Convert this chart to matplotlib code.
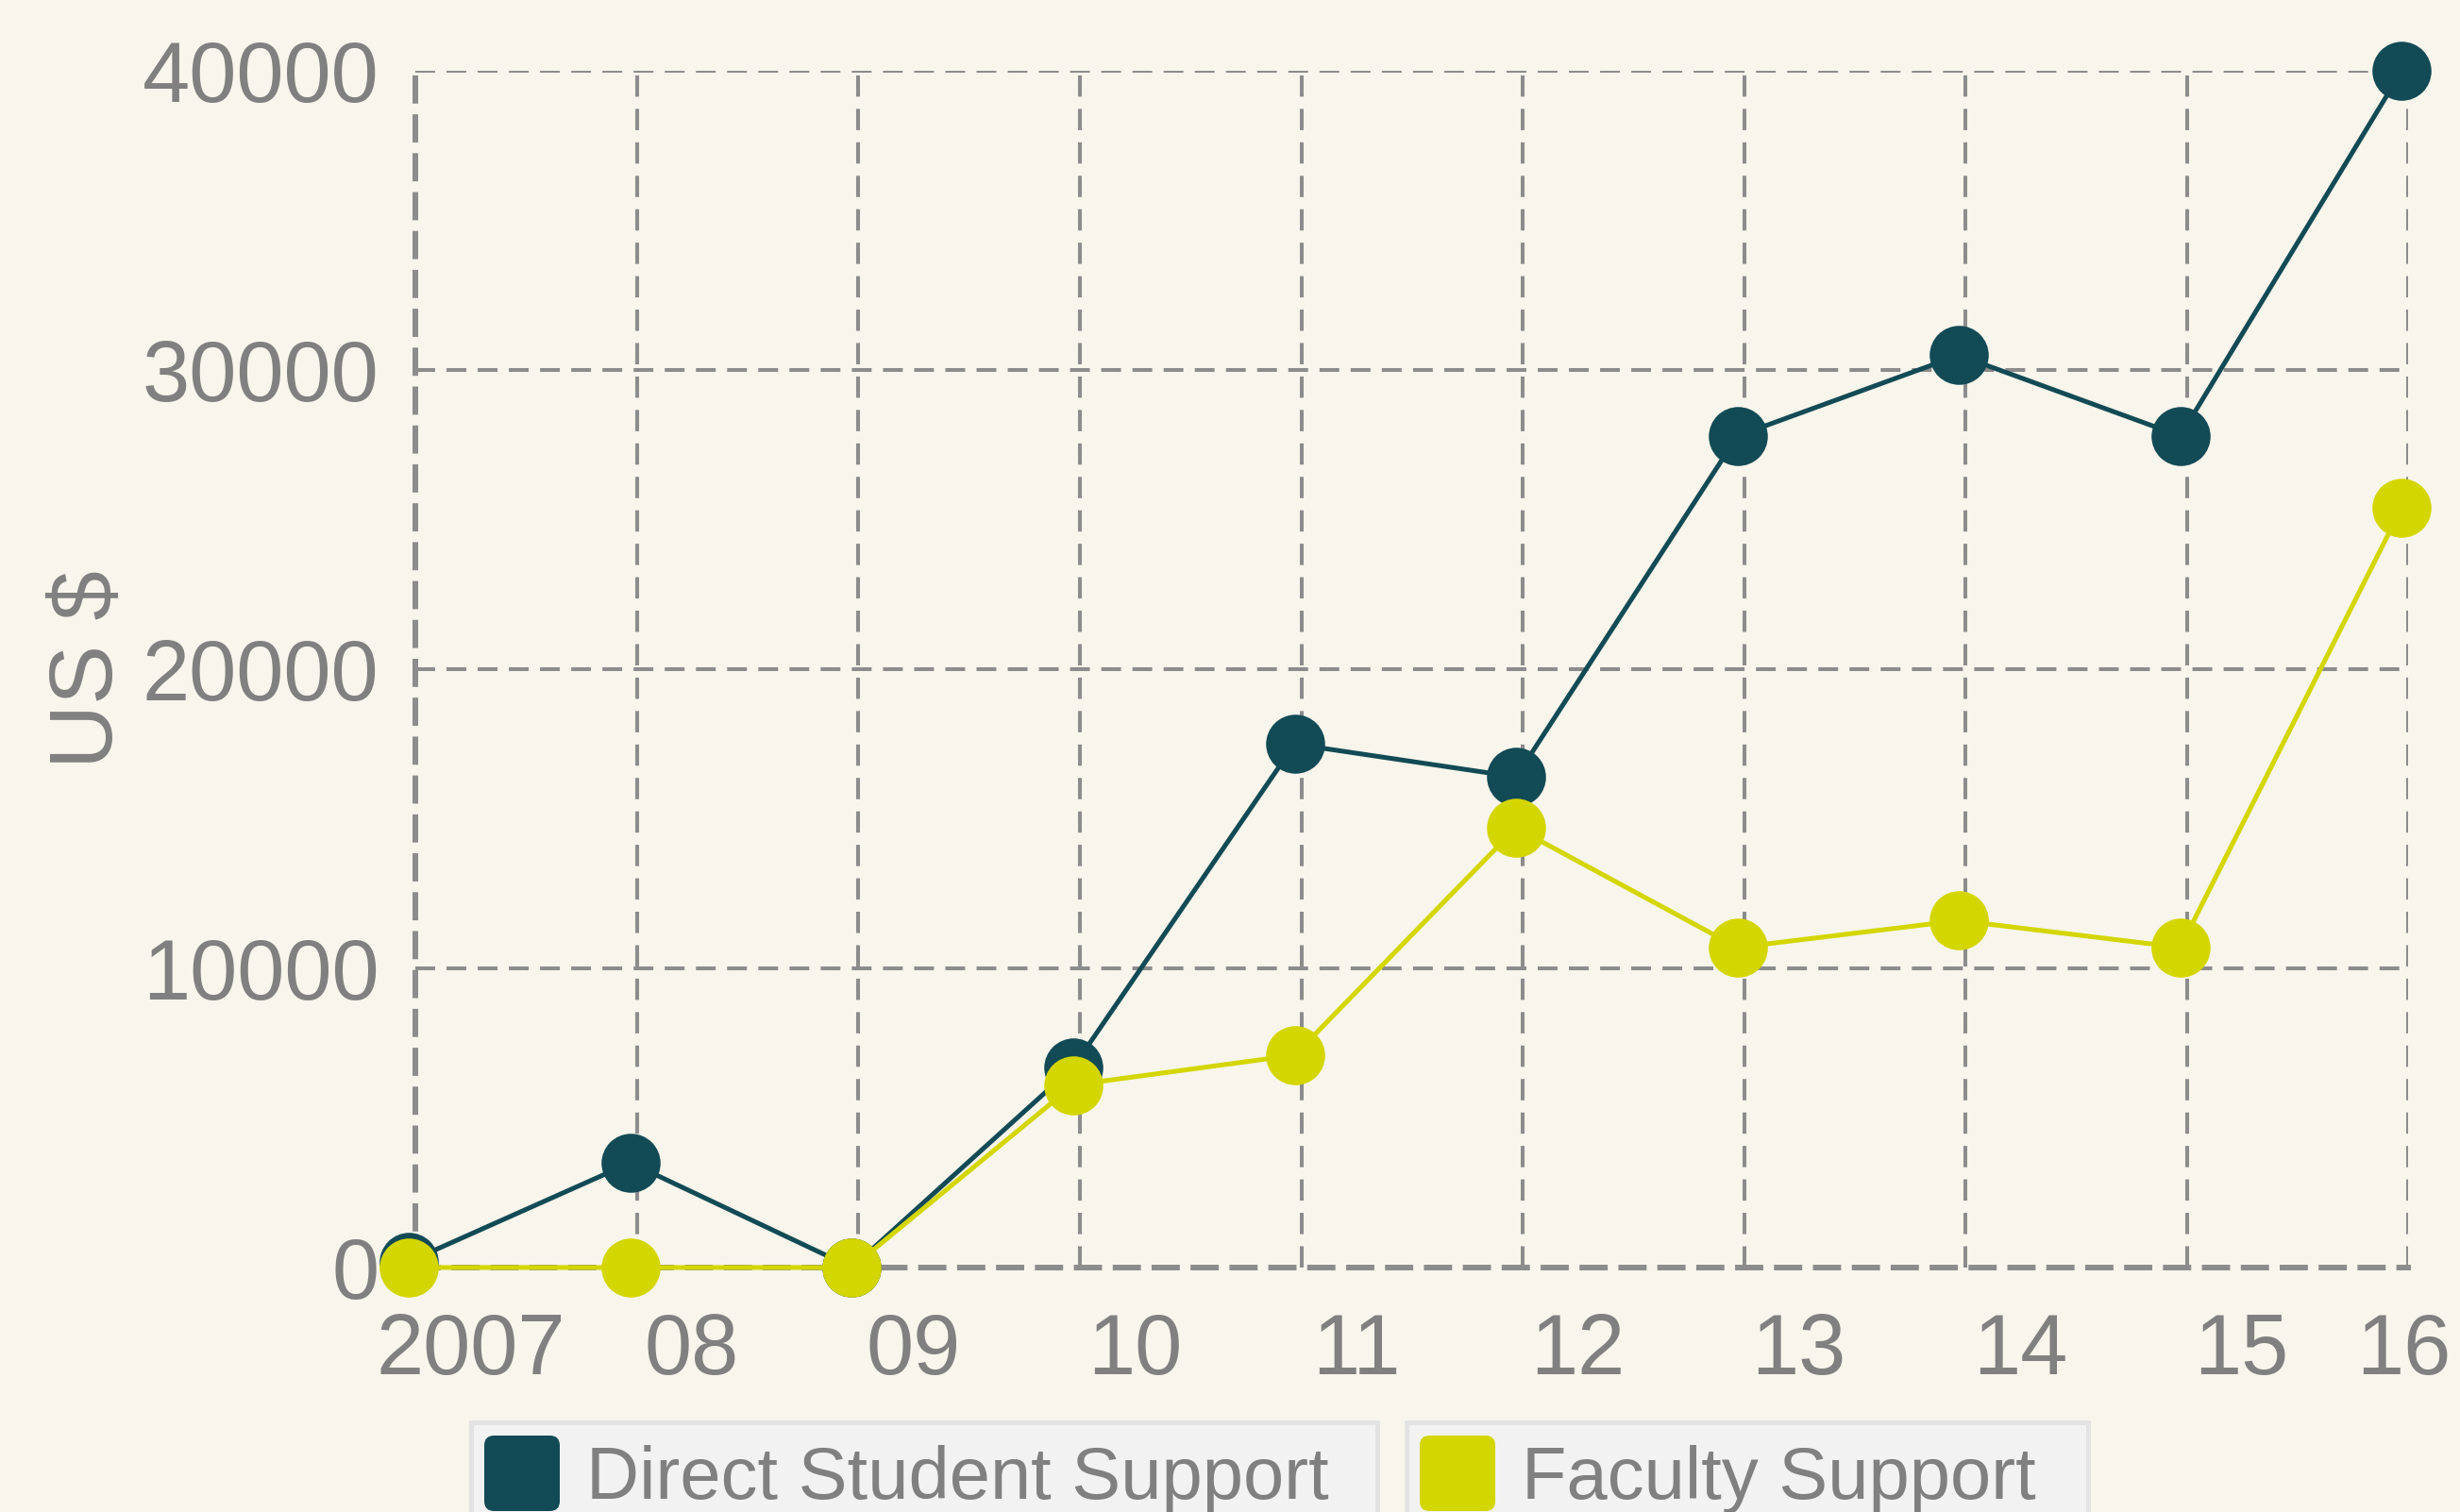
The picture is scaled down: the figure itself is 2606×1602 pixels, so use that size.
import numpy as np
import matplotlib
matplotlib.use("Agg")
import matplotlib.pyplot as plt
from matplotlib.patches import FancyBboxPatch
from matplotlib.transforms import ScaledTranslation

years = ["2007", "08", "09", "10", "11", "12", "13", "14", "15", "16"]
student_support = [200, 3500, 0, 6700, 17500, 16400, 27800, 30500, 27800, 40000]
faculty_support = [0, 0, 0, 6100, 7100, 14700, 10700, 11600, 10700, 25400]
y_ticks = [0, 10000, 20000, 30000, 40000]

bg = "#f7f5ec"
dark = "#124a55"
yellow = "#d4d600"
grey = "#808080"
gridc = "#8c8c8c"

plt.rcParams['font.family'] = ['Liberation Sans', 'DejaVu Sans']

fig = plt.figure(figsize=(26.06, 16.02), dpi=100, facecolor=bg)
ax = fig.add_axes([0.169, 0.1617, 0.81, 0.7913])
ax.set_facecolor(bg)

x = np.arange(len(years))
# points sit a touch left of the grid lines in the original
xp = x - 0.03

ax.plot(xp, student_support, color=dark, lw=3.6, marker='o', ms=44,
        clip_on=False, zorder=3)
ax.plot(xp, faculty_support, color=yellow, lw=3.6, marker='o', ms=44,
        clip_on=False, zorder=4)

ax.set_xlim(0, len(years) - 1)
ax.set_ylim(0, 40000)
ax.set_yticks(y_ticks)
ax.set_yticklabels([str(v) for v in y_ticks])
ax.set_xticks(x)
ax.set_xticklabels(years)

# grid
for v in y_ticks[1:]:
    ax.axhline(v, color=gridc, lw=2.9, ls=(0, (5.2, 3)), zorder=1)
for xi in x[1:]:
    ax.axvline(xi, color=gridc, lw=2.9, ls=(0, (5.6, 3.2)), zorder=1)

for s in ['top', 'right']:
    ax.spines[s].set_visible(False)
for s in ['left', 'bottom']:
    ax.spines[s].set_color(gridc)
    ax.spines[s].set_linewidth(4.3)
    ax.spines[s].set_linestyle((0, (4, 2.9)))

ax.tick_params(axis='both', length=0, labelsize=65, labelcolor=grey)
ax.tick_params(axis='y', pad=28)
ax.tick_params(axis='x', pad=34)

# x labels sit right of their grid line, last one kept inside the figure
labels = ax.get_xticklabels()
for i, lab in enumerate(labels):
    if i < len(labels) - 1:
        lab.set_transform(lab.get_transform() + ScaledTranslation(0.58, 0, fig.dpi_scale_trans))
    else:
        lab.set_transform(lab.get_transform() + ScaledTranslation(-0.05, 0, fig.dpi_scale_trans))

ax.set_ylabel("US $", fontsize=68, color=grey, labelpad=40)
ax.yaxis.set_label_coords(-0.143, 0.5)

# legend boxes
legend_items = [("Direct Student Support", dark, 499, 960),
                ("Faculty Support", yellow, 1490, 722)]
W, H = 2606.0, 1602.0
for name, col, bx, bw in legend_items:
    box = FancyBboxPatch((bx / W, -0.05), bw / W, 0.05 + (1 - 1507 / H),
                         boxstyle="square,pad=0", transform=fig.transFigure,
                         facecolor="#f2f2f2", edgecolor="#e3e3e3", lw=3.6,
                         clip_on=False)
    fig.add_artist(box)
    sw = FancyBboxPatch(((bx + 14) / W, 1 - 1601 / H), 80 / W, 80 / H,
                        boxstyle="round,pad=0,rounding_size=0.004",
                        transform=fig.transFigure, facecolor=col,
                        edgecolor='none', mutation_aspect=W / H)
    fig.add_artist(sw)
    fig.text((bx + 122) / W, 1 - 1588 / H, name, fontsize=56, color=grey,
             va='baseline', ha='left')

fig.savefig("out.png", dpi=100, facecolor=bg)
